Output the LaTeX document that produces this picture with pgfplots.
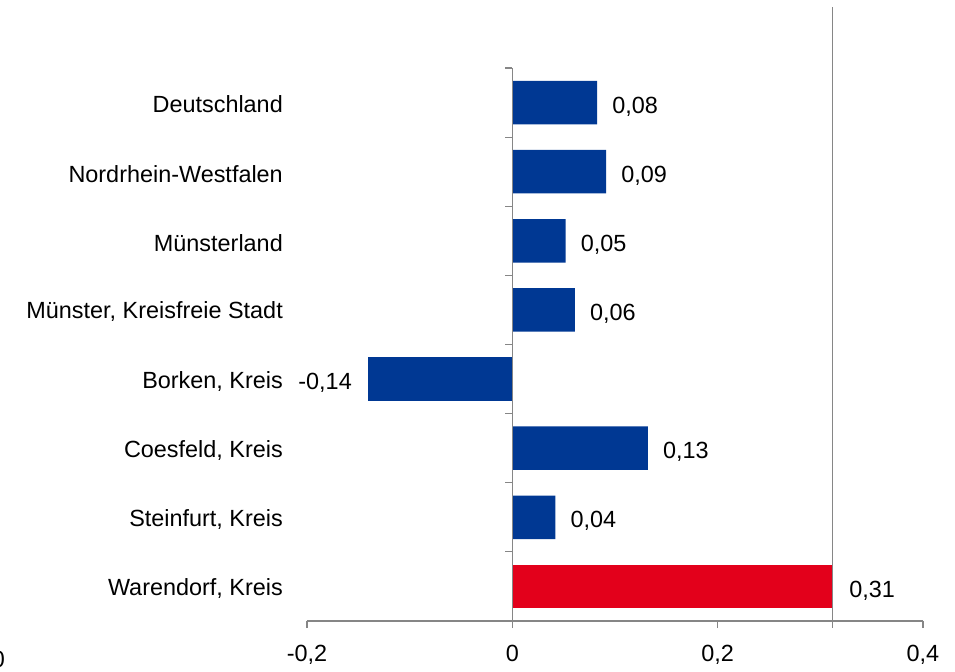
\documentclass[border=0pt]{standalone}
\usepackage{fontspec}
\setmainfont{Liberation Sans}
\usepackage{pgfplots}
\pgfplotsset{compat=1.18}
\definecolor{barblue}{RGB}{0,56,147}
\definecolor{barred}{RGB}{227,0,27}
\definecolor{axgray}{RGB}{134,134,134}
\newcommand{\cfont}{\fontsize{23.5}{28}\selectfont}
\begin{document}
\begin{tikzpicture}
\begin{axis}[
  scale only axis, width=616bp, height=553bp,
  xmin=-0.2, xmax=0.4, ymin=-0.5, ymax=7.5,
  clip=false,
  axis x line=bottom, axis y line=left,
  x axis line style={-, draw=axgray, line width=1.2bp},
  y axis line style={draw=none},
  xtick={-0.2,0,0.2,0.4},
  xtick style={draw=axgray, line width=1.2bp},
  tick align=outside,
  major tick length=7bp,
  ytick={0,...,7},
  ytick style={draw=none},
  yticklabels={{Warendorf, Kreis},{Steinfurt, Kreis},{Coesfeld, Kreis},{Borken, Kreis},{Münster, Kreisfreie Stadt},{Münsterland},{Nordrhein-Westfalen},{Deutschland}},
  yticklabel style={font=\cfont, anchor=east, inner sep=0pt, xshift=-17bp, yshift=-2bp},
  xticklabel style={font=\cfont, anchor=base, inner sep=0pt, yshift=-33bp},
  /pgf/number format/.cd, assume math mode=true, use comma, fixed,
]
\coordinate (sw) at (rel axis cs:0,0);
\addplot[xbar, bar shift=0pt, bar width=0.628, fill=barblue, draw=none,
  point meta=x, nodes near coords,
  nodes near coords style={font=\cfont, anchor=west, inner sep=0pt, xshift=15bp, yshift=-4bp,
    /pgf/number format/.cd, fixed, fixed zerofill, precision=2, use comma}]
  coordinates {(0.042,1) (0.132,2) (0.061,4) (0.052,5) (0.0913,6) (0.0826,7)};
\addplot[xbar, bar shift=0pt, bar width=0.628, fill=barblue, draw=none,
  point meta=x, nodes near coords,
  nodes near coords style={font=\cfont, anchor=east, inner sep=0pt, xshift=-16bp, yshift=-4bp,
    /pgf/number format/.cd, fixed, fixed zerofill, precision=2, use comma}]
  coordinates {(-0.1406,3)};
\addplot[xbar, bar shift=0pt, bar width=0.628, fill=barred, draw=none,
  point meta=x, nodes near coords,
  nodes near coords style={font=\cfont, anchor=west, inner sep=0pt, xshift=17bp, yshift=-4bp,
    /pgf/number format/.cd, fixed, fixed zerofill, precision=2, use comma}]
  coordinates {(0.3115,0)};
\addplot[axgray, line width=1.2bp, mark=none] coordinates {(0,-0.5) (0,7.5)};
\addplot[axgray, line width=1.2bp, mark=none] coordinates {(0.3115,-0.6) (0.3115,8.38)};
\pgfplotsinvokeforeach{-0.5,0.5,1.5,2.5,3.5,4.5,5.5,6.5,7.5}{
  \draw[axgray, line width=1.2bp] (axis cs:0,#1) -- ([xshift=-7bp]axis cs:0,#1);
}
\end{axis}
\node[anchor=base east, inner sep=0pt, font=\cfont] at ([shift={(-302bp,-46bp)}]sw) {0};
\pgfresetboundingbox
\path[use as bounding box] ([shift={(-307bp,-51bp)}]sw) rectangle ([shift={(648bp,621bp)}]sw);
\end{tikzpicture}
\end{document}
